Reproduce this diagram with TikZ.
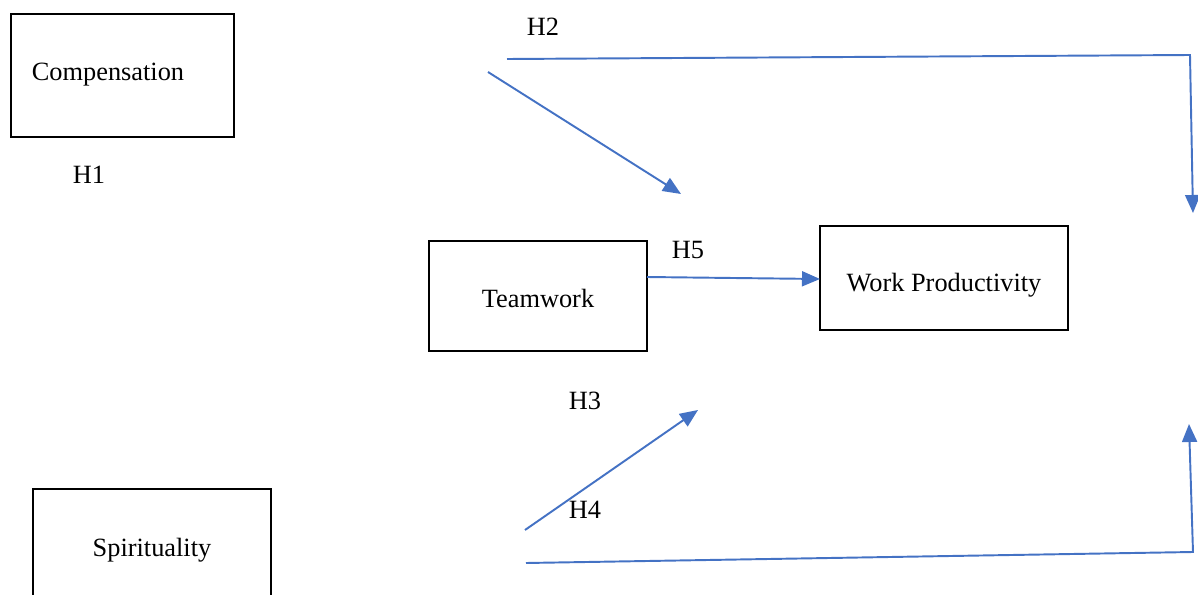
\documentclass[tikz,border=0pt]{standalone}
\usepackage{fontspec}
\setmainfont{Liberation Serif}
\usetikzlibrary{arrows.meta}
\definecolor{linkblue}{HTML}{4472C4}

\begin{document}
\begin{tikzpicture}[x=0.02cm,y=-0.02cm,
    font=\fontsize{15}{18}\selectfont,
    box/.style={draw,line width=0.85pt,inner sep=0pt},
    link/.style={draw=linkblue,line width=1.1pt},
    linkarrow/.style={link,-{Triangle[length=0.36cm,width=0.3cm]}}]

        \useasboundingbox (0,0) rectangle (1198,595);

        \begin{scope}[every node/.style={box}]
          \node (comp) at (122.5,75.5) [minimum width=4.46cm,minimum height=2.46cm] {};
          \node (team) at (538,296)    [minimum width=4.36cm,minimum height=2.2cm,text height=13.6pt,text depth=0pt] {Teamwork};
          \node (prod) at (944,278)    [minimum width=4.96cm,minimum height=2.08cm,text height=15.9pt,text depth=0pt] {Work Productivity};
          \node (spir) at (152,550)    [minimum width=4.76cm,minimum height=2.44cm] {Spirituality};
        \end{scope}

        \node (comptext) at (108,75) {Compensation};

        \node (h1) at (89,175)  {H1};
        \node (h2) at (543,27)  {H2};
        \node (h3) at (585,401) {H3};
        \node (h4) at (585,510) {H4};
        \node (h5) at (688,250) {H5};

        \coordinate (a1) at (488,72);
        \coordinate (a2) at (681,194);
        \coordinate (b1) at (507,59);
        \coordinate (b2) at (1190,55);
        \coordinate (b3) at (1193,213);
        \coordinate (c1) at (647,277);
        \coordinate (c2) at (820,279);
        \coordinate (d1) at (525,530);
        \coordinate (d2) at (698,410);
        \coordinate (e1) at (526,563);
        \coordinate (e2) at (1193,552);
        \coordinate (e3) at (1189,424);

        \path[linkarrow] (a1) -- (a2);
        \path[linkarrow] (b1) -- (b2) -- (b3);
        \path[linkarrow] (c1) -- (c2);
        \path[linkarrow] (d1) -- (d2);
        \path[linkarrow] (e1) -- (e2) -- (e3);

      \end{tikzpicture}
\end{document}
